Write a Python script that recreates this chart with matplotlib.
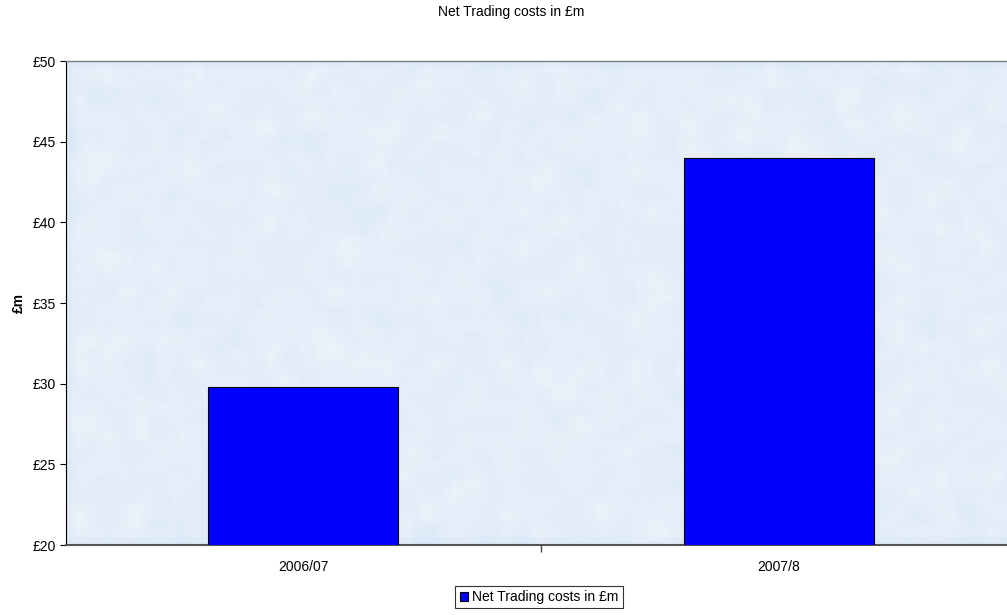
import matplotlib
matplotlib.use("Agg")
import numpy as np
import matplotlib.pyplot as plt
from matplotlib.ticker import FixedLocator, FuncFormatter

plt.rcParams['font.family'] = ['Liberation Sans', 'DejaVu Sans']

years = ["2006/07", "2007/8"]
costs = [29.8, 44.0]
series_name = "Net Trading costs in £m"

fig = plt.figure(figsize=(10.07, 6.15), dpi=100)
ax = fig.add_axes([0.0655, 0.1138, 0.9435, 0.787])

# soft paper-like texture behind the bars
rng = np.random.default_rng(3)
noise = rng.random((120, 240))
k = np.ones(5) / 5
noise = np.apply_along_axis(lambda r: np.convolve(r, k, mode="same"), 1, noise)
noise = np.apply_along_axis(lambda c: np.convolve(c, k, mode="same"), 0, noise)
noise = (noise - noise.min()) / (noise.max() - noise.min())
base = np.array([0.84, 0.90, 0.965])
light = np.array([0.93, 0.955, 0.985])
tex = base + (light - base) * noise[..., None]
ax.imshow(tex, extent=(-0.5, 1.5, 20, 50), aspect="auto", zorder=0,
          interpolation="bilinear")

x = range(len(years))
ax.bar(x, costs, width=0.40, bottom=0, color="#0000ff", edgecolor="black",
       linewidth=0.8, label=series_name, zorder=3)

ax.set_xlim(-0.5, len(years) - 0.5)
ax.set_ylim(20, 50)
ax.set_yticks(range(20, 51, 5))
ax.yaxis.set_major_formatter(FuncFormatter(lambda v, p: "£%d" % v))
ax.tick_params(axis="y", length=4, width=0.8, labelsize=10, pad=3)

ax.set_xticks(list(x))
ax.set_xticklabels(years)
ax.tick_params(axis="x", which="major", length=0, labelsize=10, pad=11)
ax.xaxis.set_minor_locator(FixedLocator([0.5]))
ax.tick_params(axis="x", which="minor", length=5, width=1.0, color="#444444")

ax.spines["left"].set_color("black")
ax.spines["left"].set_linewidth(0.8)
ax.spines["bottom"].set_color("#555555")
ax.spines["bottom"].set_linewidth(1.5)
ax.spines["top"].set_color("#808080")
ax.spines["top"].set_linewidth(1.0)
ax.spines["right"].set_visible(False)

ax.set_ylabel("£m", fontsize=10, fontweight="bold", labelpad=5)
fig.text(511 / 1007, 0.980, series_name, ha="center", va="center", fontsize=10)

leg = ax.legend(loc="center", bbox_to_anchor=(539 / 1007, 18 / 615),
                bbox_transform=fig.transFigure, fontsize=10, frameon=True,
                fancybox=False, handlelength=0.6, handleheight=0.6,
                handletextpad=0.3, borderpad=0.3, borderaxespad=0)
leg.get_frame().set_edgecolor("black")
leg.get_frame().set_linewidth(0.8)

fig.savefig("out.png", dpi=100)
